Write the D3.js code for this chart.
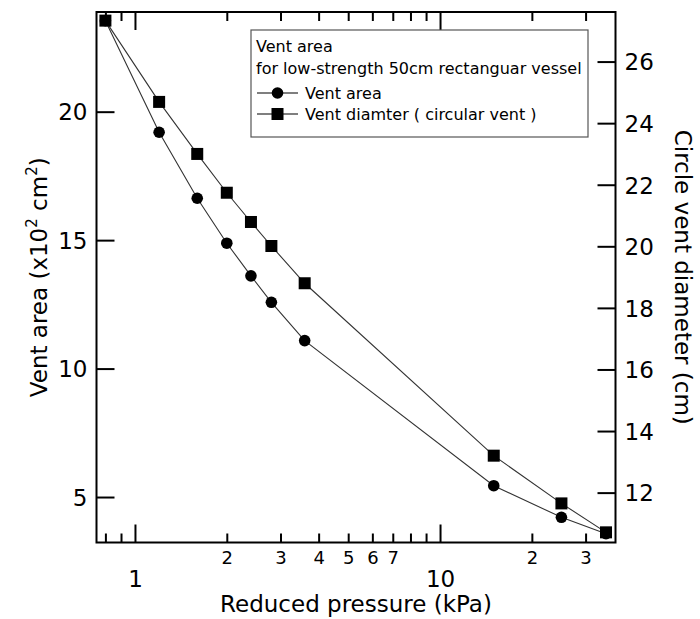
<!DOCTYPE html>
<html><head><meta charset="utf-8">
<script src="https://cdn.jsdelivr.net/npm/d3@7"></script>
<style>
body{margin:0;background:#fff;}
svg{font-family:"DejaVu Sans",sans-serif;}
</style></head>
<body><svg id="c" width="700" height="619"></svg>
<script>
// Data
const pressure = [0.8, 1.2, 1.6, 2.0, 2.4, 2.8, 3.6, 15, 25, 35];           // kPa
const ventArea = [23.54, 19.20, 16.63, 14.88, 13.61, 12.58, 11.09, 5.44, 4.21, 3.57]; // x10^2 cm^2
const ventDiam = [27.33, 24.69, 23.00, 21.74, 20.79, 20.01, 18.80, 13.20, 11.65, 10.71]; // cm
const xMajorTicks = [1, 10];
const xMinorTicks = [0.8, 0.9, 2, 3, 4, 5, 6, 7, 8, 9, 20, 30];
const xMinorLabels = {2:"2",3:"3",4:"4",5:"5",6:"6",7:"7",20:"2",30:"3"};
const yLeftTicks = [5, 10, 15, 20];
const yRightTicks = [12, 14, 16, 18, 20, 22, 24, 26];
const legendTitle = ["Vent area", "for low-strength 50cm rectanguar vessel"];
const seriesNames = ["Vent area", "Vent diamter ( circular vent )"];

const L = 96.5, R = 615.5, T = 12, B = 542.5;
const svg = d3.select("#c");
const x = d3.scaleLog().domain([0.748, 37.6]).range([L, R]);
const yL = d3.scaleLinear().domain([3.23, 23.88]).range([B, T]);
const yR = d3.scaleLinear().domain([10.38, 27.61]).range([B, T]);

function styleAxis(g){
  g.select(".domain").remove();
  g.selectAll(".tick line").attr("stroke","#000").attr("stroke-width",2);
  g.selectAll("text").attr("fill","#000").attr("font-family","DejaVu Sans");
}
// bottom major
const bMaj = svg.append("g").attr("transform",`translate(0,${B})`)
  .call(d3.axisBottom(x).tickValues(xMajorTicks).tickSize(-18).tickFormat(d3.format("d")));
styleAxis(bMaj);
bMaj.selectAll("text").attr("y",44.5).attr("dy",0).attr("font-size",23);
// bottom minor
const bMin = svg.append("g").attr("transform",`translate(0,${B})`)
  .call(d3.axisBottom(x).tickValues(xMinorTicks).tickSize(-9).tickFormat(d => xMinorLabels[d] || ""));
styleAxis(bMin);
bMin.selectAll("text").attr("y",21).attr("dy",0).attr("font-size",18);
// top
const tMaj = svg.append("g").attr("transform",`translate(0,${T})`)
  .call(d3.axisTop(x).tickValues(xMajorTicks).tickSize(-18).tickFormat(""));
styleAxis(tMaj);
const tMin = svg.append("g").attr("transform",`translate(0,${T})`)
  .call(d3.axisTop(x).tickValues(xMinorTicks).tickSize(-9).tickFormat(""));
styleAxis(tMin);
// left
const lAx = svg.append("g").attr("transform",`translate(${L},0)`)
  .call(d3.axisLeft(yL).tickValues(yLeftTicks).tickSize(-18).tickPadding(9));
styleAxis(lAx);
lAx.selectAll("text").attr("font-size",23).attr("x",-9).attr("dy","0.36em");
// right
const rAx = svg.append("g").attr("transform",`translate(${R},0)`)
  .call(d3.axisRight(yR).tickValues(yRightTicks).tickSize(-18));
styleAxis(rAx);
rAx.selectAll("text").attr("font-size",23).attr("x",9).attr("dy","0.36em");

// frame
svg.append("rect").attr("x",L).attr("y",T).attr("width",R-L).attr("height",B-T)
  .attr("fill","none").attr("stroke","#000").attr("stroke-width",2);

// lines
const lineA = d3.line().x((d,i)=>x(pressure[i])).y(d=>yL(d));
const lineD = d3.line().x((d,i)=>x(pressure[i])).y(d=>yR(d));
svg.append("path").datum(ventArea).attr("d",lineA).attr("fill","none").attr("stroke","#333").attr("stroke-width",1.1);
svg.append("path").datum(ventDiam).attr("d",lineD).attr("fill","none").attr("stroke","#333").attr("stroke-width",1.1);
svg.selectAll("circle.a").data(ventArea).join("circle").attr("class","a")
  .attr("cx",(d,i)=>x(pressure[i])).attr("cy",d=>yL(d)).attr("r",5.8).attr("fill","#000");
svg.selectAll("rect.d").data(ventDiam).join("rect").attr("class","d")
  .attr("x",(d,i)=>x(pressure[i])-6).attr("y",d=>yR(d)-6).attr("width",12).attr("height",12).attr("fill","#000");

// legend
const lg = svg.append("g");
lg.append("rect").attr("x",251).attr("y",30).attr("width",337).attr("height",107)
  .attr("fill","#fff").attr("stroke","#555").attr("stroke-width",1.2);
lg.selectAll("text.t").data(legendTitle).join("text").attr("class","t")
  .attr("x",256).attr("y",(d,i)=>[51.5,73.5][i]).attr("font-size",16).text(d=>d);
const rowsY = [99, 120];
seriesNames.forEach((s,i)=>{
  const yy = rowsY[i]-6;
  lg.append("line").attr("x1",257).attr("x2",298).attr("y1",yy).attr("y2",yy).attr("stroke","#000").attr("stroke-width",1.2);
  if(i===0) lg.append("circle").attr("cx",277.5).attr("cy",yy).attr("r",5.8).attr("fill","#000");
  else lg.append("rect").attr("x",271.5).attr("y",yy-6).attr("width",12).attr("height",12).attr("fill","#000");
  lg.append("text").attr("x",305).attr("y",rowsY[i]).attr("font-size",16).text(s);
});

// axis titles
svg.append("text").attr("x",(L+R)/2).attr("y",612).attr("text-anchor","middle").attr("font-size",23)
  .text("Reduced pressure (kPa)");
const lt = svg.append("text").attr("transform",`translate(47,${(T+B)/2}) rotate(-90)`)
  .attr("text-anchor","middle").attr("font-size",23);
lt.append("tspan").text("Vent area (x10");
lt.append("tspan").attr("font-size",15).attr("dy",-10).text("2");
lt.append("tspan").attr("dy",10).text(" cm");
lt.append("tspan").attr("font-size",15).attr("dy",-10).text("2");
lt.append("tspan").attr("dy",10).text(")");
svg.append("text").attr("transform",`translate(675,${(T+B)/2}) rotate(90)`)
  .attr("text-anchor","middle").attr("font-size",23).text("Circle vent diameter (cm)");
</script></body></html>
